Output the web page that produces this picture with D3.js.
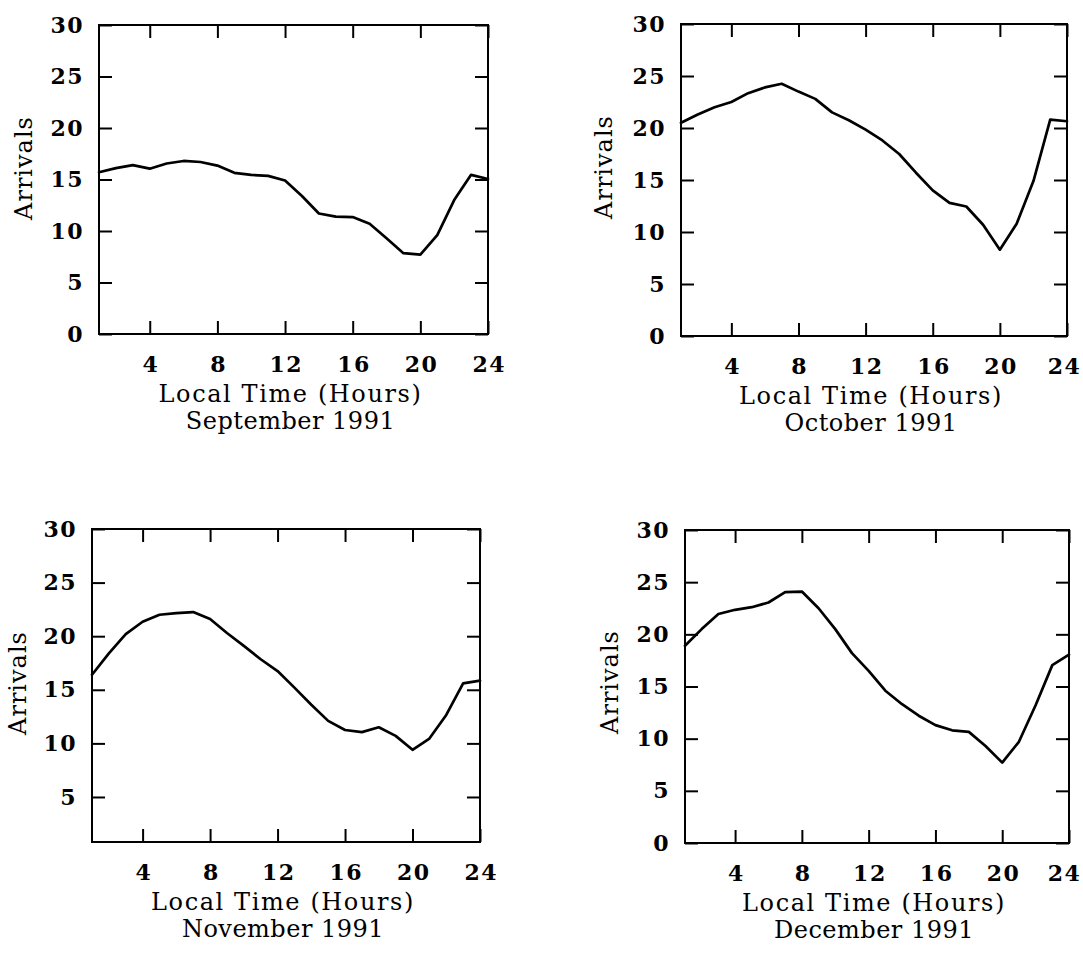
<!DOCTYPE html>
<html>
<head>
<meta charset="utf-8">
<script src="https://cdn.jsdelivr.net/npm/d3@7"></script>
<style>
  html, body { margin: 0; padding: 0; background: #fff; }
  svg { display: block; }
  text { font-family: "DejaVu Serif", serif; fill: #000; }
</style>
</head>
<body>
<svg id="chart" width="1083" height="958"></svg>
<script>
// Hourly arrival counts by local time, Sept–Dec 1991
const hours = [1, 2, 3, 4, 5, 6, 7, 8, 9, 10, 11, 12, 13, 14, 15, 16, 17, 18, 19, 20, 21, 22, 23, 24];

const septArrivals = [15.7, 16.1, 16.4, 16.05, 16.55, 16.8, 16.7, 16.35, 15.65, 15.45, 15.35, 14.9,
                      13.4, 11.7, 11.4, 11.35, 10.7, 9.3, 7.85, 7.7, 9.6, 13.0, 15.45, 15.05];
const octArrivals  = [20.5, 21.3, 22.0, 22.5, 23.35, 23.9, 24.25, 23.5, 22.8, 21.5, 20.75, 19.85,
                      18.8, 17.5, 15.7, 14.0, 12.8, 12.45, 10.7, 8.3, 10.8, 14.9, 20.8, 20.65];
const novArrivals  = [16.4, 18.4, 20.2, 21.35, 22.0, 22.15, 22.25, 21.6, 20.3, 19.1, 17.85, 16.75,
                      15.2, 13.6, 12.1, 11.25, 11.05, 11.5, 10.7, 9.4, 10.45, 12.65, 15.6, 15.85];
const decArrivals  = [18.9, 20.5, 21.95, 22.35, 22.6, 23.05, 24.05, 24.1, 22.5, 20.5, 18.2, 16.5,
                      14.6, 13.3, 12.2, 11.3, 10.8, 10.65, 9.3, 7.7, 9.7, 13.2, 17.05, 18.05];

const monthTitles = ["September 1991", "October 1991", "November 1991", "December 1991"];
const xTickValues = [4, 8, 12, 16, 20, 24];
const yTickValues = [0, 5, 10, 15, 20, 25, 30];
const novYTickValues = [5, 10, 15, 20, 25, 30];
const xAxisTitle = "Local Time (Hours)";
const yAxisTitle = "Arrivals";

// Panel frames (pixel layout) paired with their series
const panels = [
  { values: septArrivals, title: monthTitles[0], yMin: 0,   ticks: yTickValues,
    left: 99,  right: 488,  top: 25,  bottom: 334, ylabX: 23,  ylabY: 168 },
  { values: octArrivals,  title: monthTitles[1], yMin: 0,   ticks: yTickValues,
    left: 681, right: 1067, top: 24,  bottom: 336, ylabX: 603, ylabY: 167 },
  { values: novArrivals,  title: monthTitles[2], yMin: 0.8, ticks: novYTickValues,
    left: 92,  right: 480,  top: 529, bottom: 842, ylabX: 17,  ylabY: 683 },
  { values: decArrivals,  title: monthTitles[3], yMin: 0,   ticks: yTickValues,
    left: 685, right: 1069, top: 530, bottom: 843, ylabX: 609, ylabY: 682 }
];

const svg = d3.select("#chart");
const pageWidth = 1083;
const tickLen = 13;

panels.forEach(p => {
  const x = d3.scaleLinear().domain([1, 24]).range([p.left, p.right]);
  const y = d3.scaleLinear().domain([p.yMin, 30]).range([p.bottom, p.top]);
  const g = svg.append("g");

  // inward ticks on all four sides
  const bottomAxis = g.append("g")
    .attr("transform", `translate(0,${p.bottom})`)
    .call(d3.axisBottom(x).tickValues(xTickValues).tickSizeInner(-tickLen).tickSizeOuter(0).tickPadding(22));
  const topAxis = g.append("g")
    .attr("transform", `translate(0,${p.top})`)
    .call(d3.axisTop(x).tickValues(xTickValues).tickSizeInner(-tickLen).tickSizeOuter(0).tickFormat(""));
  const leftAxis = g.append("g")
    .attr("transform", `translate(${p.left},0)`)
    .call(d3.axisLeft(y).tickValues(p.ticks).tickSizeInner(-tickLen).tickSizeOuter(0).tickPadding(15));
  const rightAxis = g.append("g")
    .attr("transform", `translate(${p.right},0)`)
    .call(d3.axisRight(y).tickValues(p.ticks).tickSizeInner(-tickLen).tickSizeOuter(0).tickFormat(""));

  [bottomAxis, topAxis, leftAxis, rightAxis].forEach(a => {
    a.select(".domain").remove();
    a.selectAll(".tick line").attr("stroke", "#000").attr("stroke-width", 2);
    a.selectAll(".tick text")
      .attr("fill", "#000")
      .style("font-family", '"DejaVu Serif", serif')
      .style("font-size", "22px")
      .style("font-weight", "bold")
      .style("letter-spacing", "1.5px");
  });
  // letter-spacing trails the last glyph; nudge centred labels back
  bottomAxis.selectAll(".tick text").attr("dx", "0.75px");

  // keep the last hour label inside the page
  bottomAxis.selectAll(".tick text").each(function () {
    const bb = this.getBBox();
    const tx = +this.parentNode.getAttribute("transform").match(/translate\(([-\d.]+)/)[1];
    const overflow = tx + bb.x + bb.width - (pageWidth - 1);
    if (overflow > 0) d3.select(this).attr("dx", -overflow);
  });

  // frame
  g.append("rect")
    .attr("x", p.left).attr("y", p.top)
    .attr("width", p.right - p.left).attr("height", p.bottom - p.top)
    .attr("fill", "none").attr("stroke", "#000").attr("stroke-width", 2);

  // series line
  const line = d3.line().x((d, i) => x(hours[i])).y(d => y(d));
  g.append("path")
    .datum(p.values)
    .attr("d", line)
    .attr("fill", "none")
    .attr("stroke", "#000")
    .attr("stroke-width", 2.7)
    .attr("stroke-linejoin", "round")
    .attr("stroke-linecap", "round");

  const cx = (p.left + p.right) / 2 - 3;

  g.append("text")
    .attr("x", cx).attr("y", p.bottom + 68)
    .attr("text-anchor", "middle")
    .style("font-size", "24px")
    .style("letter-spacing", "1.6px")
    .text(xAxisTitle);

  g.append("text")
    .attr("x", cx).attr("y", p.bottom + 95)
    .attr("text-anchor", "middle")
    .style("font-size", "24px")
    .style("letter-spacing", "0.5px")
    .text(p.title);

  g.append("text")
    .attr("transform", `translate(${p.ylabX},${p.ylabY}) rotate(-90)`)
    .attr("text-anchor", "middle")
    .attr("dy", "0.36em")
    .style("font-size", "24px")
    .style("letter-spacing", "1px")
    .text(yAxisTitle);
});
</script>
</body>
</html>
